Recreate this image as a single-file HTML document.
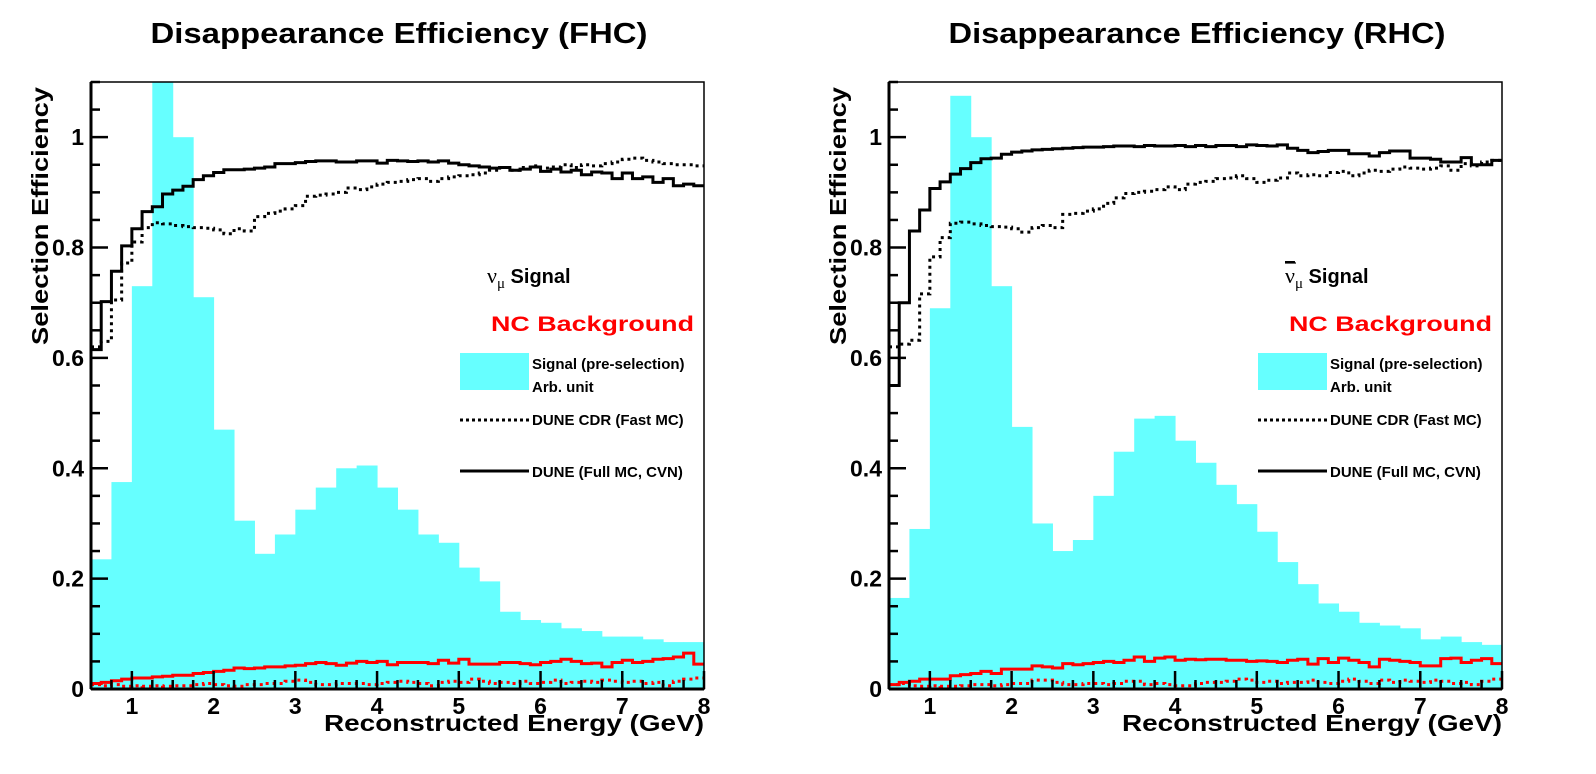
<!DOCTYPE html>
<html><head><meta charset="utf-8"><style>
html,body{margin:0;padding:0;background:#fff;}
svg{display:block;font-family:"Liberation Sans",sans-serif;}
</style></head><body>
<svg id="chart" width="1596" height="774" viewBox="0 0 1596 774" xmlns="http://www.w3.org/2000/svg"></svg>
<script>
// ---- data ----
const xMin = 0.5, xMax = 8, yMax = 1.1;
const xTickLabels = ["1","2","3","4","5","6","7","8"];
const yTickLabels = ["0","0.2","0.4","0.6","0.8","1"];
const fineBin = 0.125, coarseBin = 0.25;

const fhcSignal = [0.235,0.375,0.73,1.10,1.0,0.71,0.47,0.305,0.245,0.28,0.325,0.365,0.40,0.405,0.365,0.325,0.28,0.265,0.22,0.195,0.14,0.125,0.12,0.11,0.105,0.095,0.095,0.09,0.085,0.085];
const fhcFullMC = [0.615,0.702,0.757,0.803,0.834,0.865,0.874,0.897,0.904,0.911,
0.923,0.930,0.936,0.941,0.941,0.942,0.944,0.946,0.952,0.952,
0.954,0.956,0.957,0.957,0.955,0.955,0.957,0.957,0.953,0.958,
0.957,0.956,0.957,0.955,0.957,0.953,0.950,0.948,0.946,0.944,
0.945,0.940,0.942,0.946,0.938,0.942,0.937,0.940,0.932,0.937,
0.935,0.925,0.935,0.925,0.928,0.918,0.925,0.912,0.915,0.912];
const fhcFastMC = [0.620,0.630,0.705,0.772,0.810,0.836,0.845,0.843,0.840,0.838,
0.836,0.835,0.832,0.825,0.834,0.830,0.856,0.862,0.866,0.870,
0.876,0.893,0.895,0.897,0.900,0.908,0.905,0.910,0.915,0.918,
0.920,0.923,0.925,0.920,0.925,0.928,0.930,0.932,0.935,0.940,
0.945,0.940,0.945,0.948,0.944,0.946,0.950,0.945,0.950,0.948,
0.952,0.955,0.960,0.962,0.958,0.955,0.952,0.950,0.950,0.948];
const fhcNCFull = [0.010,0.012,0.015,0.018,0.020,0.020,0.022,0.023,0.025,0.025,
0.028,0.030,0.032,0.034,0.038,0.037,0.038,0.040,0.040,0.042,
0.043,0.046,0.048,0.046,0.043,0.047,0.050,0.048,0.050,0.044,
0.048,0.048,0.048,0.046,0.052,0.047,0.054,0.045,0.045,0.045,
0.048,0.048,0.046,0.044,0.048,0.050,0.054,0.050,0.046,0.047,
0.040,0.048,0.052,0.048,0.050,0.054,0.055,0.058,0.065,0.045];
const fhcNCFast = [0.008,0.006,0.008,0.005,0.006,0.005,0.006,0.005,0.006,0.006,
0.008,0.010,0.008,0.006,0.005,0.008,0.008,0.010,0.010,0.014,
0.016,0.012,0.008,0.008,0.010,0.010,0.010,0.008,0.010,0.012,
0.014,0.012,0.010,0.006,0.012,0.014,0.012,0.018,0.014,0.010,
0.012,0.010,0.014,0.010,0.012,0.016,0.010,0.012,0.014,0.012,
0.016,0.014,0.012,0.014,0.010,0.012,0.006,0.014,0.018,0.020];

const rhcSignal = [0.165,0.29,0.69,1.075,1.0,0.73,0.475,0.30,0.25,0.27,0.35,0.43,0.49,0.495,0.45,0.41,0.37,0.335,0.285,0.23,0.19,0.155,0.14,0.12,0.115,0.11,0.09,0.095,0.085,0.08];
const rhcFullMC = [0.550,0.700,0.830,0.868,0.907,0.919,0.933,0.943,0.954,0.961,
0.962,0.969,0.973,0.975,0.977,0.978,0.979,0.980,0.981,0.982,
0.982,0.983,0.984,0.984,0.983,0.985,0.984,0.984,0.985,0.983,
0.985,0.983,0.985,0.985,0.983,0.986,0.985,0.984,0.986,0.980,
0.976,0.972,0.974,0.976,0.976,0.970,0.970,0.966,0.972,0.975,
0.975,0.962,0.962,0.960,0.955,0.955,0.963,0.950,0.950,0.958];
const rhcFastMC = [0.620,0.625,0.632,0.716,0.783,0.818,0.844,0.846,0.843,0.840,
0.838,0.837,0.834,0.828,0.836,0.840,0.836,0.860,0.862,0.866,
0.870,0.880,0.890,0.898,0.900,0.902,0.905,0.910,0.905,0.915,
0.918,0.920,0.925,0.926,0.930,0.925,0.918,0.922,0.926,0.935,
0.930,0.932,0.930,0.936,0.938,0.930,0.935,0.940,0.938,0.942,
0.946,0.944,0.942,0.944,0.948,0.940,0.952,0.948,0.955,0.958];
const rhcNCFull = [0.008,0.012,0.014,0.018,0.018,0.018,0.024,0.026,0.028,0.032,
0.028,0.036,0.036,0.036,0.042,0.040,0.038,0.046,0.044,0.046,
0.048,0.050,0.048,0.052,0.058,0.050,0.056,0.058,0.052,0.054,
0.053,0.054,0.054,0.052,0.052,0.050,0.051,0.050,0.048,0.052,
0.054,0.045,0.055,0.048,0.056,0.052,0.048,0.040,0.054,0.052,
0.050,0.048,0.042,0.042,0.055,0.056,0.048,0.052,0.055,0.046];
const rhcNCFast = [0.008,0.010,0.006,0.005,0.006,0.005,0.005,0.006,0.008,0.008,
0.006,0.008,0.010,0.010,0.016,0.016,0.012,0.008,0.008,0.010,
0.010,0.008,0.010,0.014,0.014,0.008,0.010,0.008,0.006,0.006,
0.010,0.012,0.012,0.014,0.018,0.016,0.012,0.014,0.010,0.012,
0.012,0.016,0.012,0.010,0.014,0.018,0.014,0.010,0.016,0.012,
0.016,0.014,0.012,0.016,0.014,0.010,0.012,0.008,0.014,0.018];

// ---- rendering ----
const NS = "http://www.w3.org/2000/svg";
const svg = document.getElementById('chart');
function mk(tag, attrs, parent){
  const e = document.createElementNS(NS, tag);
  for (const k in attrs) e.setAttribute(k, attrs[k]);
  (parent||svg).appendChild(e);
  return e;
}
const top0 = 82, bot0 = 689, W = 613;

function panel(px, id, title, signal, full, fast, ncFull, ncFast, isBar){
  const xs = v => px + (v - xMin) / (xMax - xMin) * W;
  const ys = v => bot0 - v / yMax * (bot0 - top0);
  const g = mk('g', {});
  
  
  const clip = mk('clipPath', {id: id + '-clip'}, g);
  mk('rect', {x: px, y: top0, width: W, height: bot0 - top0}, clip);
  const plot = mk('g', {'clip-path': 'url(#' + id + '-clip)'}, g);
  
  
  // signal bars
  signal.forEach((v, i) => {
    const x0 = xs(xMin + i * coarseBin), x1 = xs(xMin + (i + 1) * coarseBin);
    const r = mk('rect', {x: x0, y: ys(v), width: x1 - x0 + 0.5, height: ys(0) - ys(v), fill: '#66ffff'}, plot);
    
    
  });
  function step(arr, color, dash, name){
    let d = '';
    arr.forEach((v, i) => {
      const x0 = xs(xMin + i * fineBin), x1 = xs(xMin + (i + 1) * fineBin);
      d += (i === 0 ? 'M' + x0 + ' ' + ys(v) : 'V' + ys(v)) + 'H' + x1;
    });
    const p = mk('path', {d: d, fill: 'none', stroke: color, 'stroke-width': 3, 'stroke-dasharray': dash || 'none'}, plot);
    
    
  }
  step(ncFast, '#ff0000', '3,4', 'nc-fast-mc-line');
  step(ncFull, '#ff0000', null, 'nc-full-mc-line');
  step(fast, '#000', '3,4', 'signal-fast-mc-line');
  step(full, '#000', null, 'signal-full-mc-line');
  // frame
  const fr = mk('rect', {x: px, y: top0, width: W, height: bot0 - top0, fill: 'none', stroke: '#000', 'stroke-width': 1.5}, g);
  
  
  mk('line', {x1: px, y1: top0, x2: px, y2: bot0, stroke: '#000', 'stroke-width': 3}, g);
  mk('line', {x1: px, y1: bot0, x2: px + W, y2: bot0, stroke: '#000', 'stroke-width': 3}, g);
  // x ticks
  for (let k = 0; k <= 30; k++) {
    const v = xMin + k * 0.25;
    const major = Math.abs(v - Math.round(v)) < 1e-6;
    mk('line', {x1: xs(v), x2: xs(v), y1: bot0, y2: bot0 - (major ? 18 : 9), stroke: '#000', 'stroke-width': 2.5}, g);
  }
  xTickLabels.forEach(l => {
    const t = mk('text', {x: xs(+l), y: 714, 'text-anchor': 'middle', 'font-size': 23, 'font-weight': 'bold'}, g);
    t.textContent = l;
    
    
  });
  // y ticks
  for (let k = 0; k <= 22; k++) {
    const v = k * 0.05;
    const major = k % 4 === 0;
    mk('line', {x1: px, x2: px + (major ? 17 : 9), y1: ys(v), y2: ys(v), stroke: '#000', 'stroke-width': 2.5}, g);
  }
  yTickLabels.forEach(l => {
    const t = mk('text', {x: px - 7, y: ys(+l) + 8, 'text-anchor': 'end', 'font-size': 23, 'font-weight': 'bold'}, g);
    t.textContent = l;
    
    
  });
  // titles
  const tt = mk('text', {x: px + 308, y: 43, 'text-anchor': 'middle', 'font-size': 29, 'font-weight': 'bold', textLength: 497, lengthAdjust: 'spacingAndGlyphs'}, g);
  tt.textContent = title;
  
  
  const xt = mk('text', {x: px + W, y: 731, 'text-anchor': 'end', 'font-size': 23, 'font-weight': 'bold', textLength: 380, lengthAdjust: 'spacingAndGlyphs'}, g);
  xt.textContent = 'Reconstructed Energy (GeV)';
  
  
  const yt = mk('text', {x: 0, y: 0, 'text-anchor': 'middle', 'font-size': 23, 'font-weight': 'bold', textLength: 258, lengthAdjust: 'spacingAndGlyphs', transform: 'translate(' + (px - 43) + ',216) rotate(-90)'}, g);
  yt.textContent = 'Selection Efficiency';
  
  
  // legend
  const lx = px + 369;
  const lg = mk('g', {}, g);
  
  
  const s = mk('text', {x: lx + 27, y: 283, 'font-size': 20, 'font-weight': 'bold'}, lg);
  s.innerHTML = '<tspan font-family="Liberation Serif, serif" font-weight="normal" font-size="22"' + (isBar ? ' text-decoration="overline"' : '') + '>ν</tspan><tspan font-family="Liberation Serif, serif" font-weight="normal" font-size="15" dy="5">μ</tspan><tspan dy="-5"> Signal</tspan>';
  
  
  if (isBar) mk('line', {x1: lx + 27, x2: lx + 38, y1: 263, y2: 263, stroke: '#000', 'stroke-width': 1.2}, lg);
  const nc = mk('text', {x: lx + 31, y: 331, 'font-size': 21, 'font-weight': 'bold', fill: '#ff0000', textLength: 203, lengthAdjust: 'spacingAndGlyphs'}, lg);
  nc.textContent = 'NC Background';
  
  
  const box = mk('rect', {x: lx, y: 353, width: 69, height: 37, fill: '#66ffff'}, lg);
  
  
  const items = [['Signal (pre-selection)', 369], ['Arb. unit', 392], ['DUNE CDR (Fast MC)', 425], ['DUNE (Full MC, CVN)', 477]];
  items.forEach(it => {
    const t = mk('text', {x: lx + 72, y: it[1], 'font-size': 15, 'font-weight': 'bold'}, lg);
    t.textContent = it[0];
    
    
  });
  mk('line', {x1: lx, x2: lx + 69, y1: 420, y2: 420, stroke: '#000', 'stroke-width': 3, 'stroke-dasharray': '3,3'}, lg);
  mk('line', {x1: lx, x2: lx + 69, y1: 471, y2: 471, stroke: '#000', 'stroke-width': 3}, lg);
}
panel(91, 'fhc', 'Disappearance Efficiency (FHC)', fhcSignal, fhcFullMC, fhcFastMC, fhcNCFull, fhcNCFast, false);
panel(889, 'rhc', 'Disappearance Efficiency (RHC)', rhcSignal, rhcFullMC, rhcFastMC, rhcNCFull, rhcNCFast, true);
</script>
</body></html>
